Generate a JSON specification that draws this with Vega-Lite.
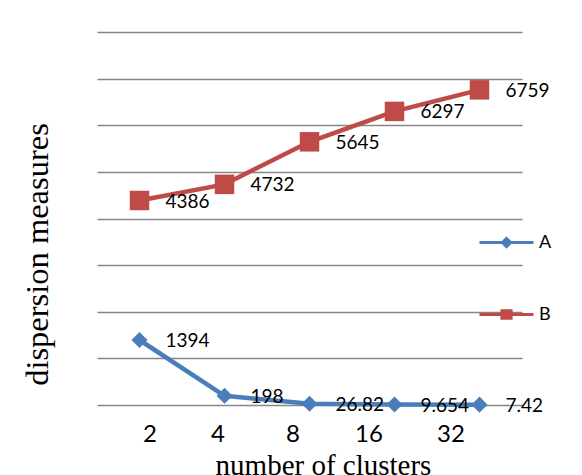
{
  "$schema": "https://vega.github.io/schema/vega-lite/v6.json",
  "width": 425,
  "height": 373,
  "autosize": {"type": "none"},
  "padding": {"left": 97, "top": 32, "right": 60, "bottom": 70},
  "background": "white",
  "config": {
    "view": {"stroke": null},
    "font": "Lato"
  },
  "data": {
    "values": [
      {"clusters": "2", "series": "A", "value": 1394},
      {"clusters": "4", "series": "A", "value": 198},
      {"clusters": "8", "series": "A", "value": 26.82},
      {"clusters": "16", "series": "A", "value": 9.654},
      {"clusters": "32", "series": "A", "value": 7.42},
      {"clusters": "2", "series": "B", "value": 4386},
      {"clusters": "4", "series": "B", "value": 4732},
      {"clusters": "8", "series": "B", "value": 5645},
      {"clusters": "16", "series": "B", "value": 6297},
      {"clusters": "32", "series": "B", "value": 6759}
    ]
  },
  "encoding": {
    "x": {
      "field": "clusters",
      "type": "ordinal",
      "sort": ["2", "4", "8", "16", "32"],
      "scale": {"type": "point", "padding": 0.5},
      "axis": {
        "title": "number of clusters",
        "titleFont": "Liberation Serif",
        "titleFontSize": 29,
        "titleFontWeight": "normal",
        "titleColor": "black",
        "titleX": 226,
        "titleY": 46,
        "titleBaseline": "top",
        "labelAngle": 0,
        "labelFont": "Lato",
        "labelFontSize": 24,
        "labelColor": "black",
        "labelPadding": 17,
        "labelOffset": {
          "condition": [
            {"test": "datum.value === '2'", "value": 10},
            {"test": "datum.value === '4'", "value": -7},
            {"test": "datum.value === '8'", "value": -17},
            {"test": "datum.value === '16'", "value": -26}
          ],
          "value": -29
        },
        "domain": false,
        "ticks": false,
        "grid": false
      }
    },
    "y": {
      "field": "value",
      "type": "quantitative",
      "scale": {"domain": [0, 8000], "nice": false},
      "axis": {
        "title": "dispersion measures",
        "titleFont": "Liberation Serif",
        "titleFontSize": 32.5,
        "titleFontWeight": "normal",
        "titleColor": "black",
        "titleX": -60,
        "titleY": 222,
        "titleAngle": -90,
        "titleAlign": "center",
        "titleBaseline": "middle",
        "values": [0, 1000, 2000, 3000, 4000, 5000, 6000, 7000, 8000],
        "labels": false,
        "ticks": false,
        "domain": false,
        "grid": true,
        "gridColor": "#878787",
        "gridWidth": 1.5
      }
    }
  },
  "layer": [
    {
      "mark": {"type": "line", "strokeWidth": 4.5},
      "encoding": {
        "color": {
          "field": "series",
          "type": "nominal",
          "scale": {"range": ["#4a7ebb", "#be4b48"]},
          "legend": null
        }
      }
    },
    {
      "transform": [{"filter": "datum.series === 'A'"}],
      "mark": {"type": "point", "filled": true, "shape": "diamond", "size": 260, "opacity": 1},
      "encoding": {
        "color": {"field": "series", "type": "nominal", "legend": null}
      }
    },
    {
      "transform": [{"filter": "datum.series === 'B'"}],
      "mark": {"type": "point", "filled": true, "shape": "square", "size": 380, "opacity": 1},
      "encoding": {
        "color": {"field": "series", "type": "nominal", "legend": null}
      }
    },
    {
      "transform": [{"filter": "datum.series === 'none'"}],
      "mark": {"type": "point", "size": 2916, "strokeWidth": 3, "opacity": 1},
      "encoding": {
        "fill": {
          "field": "series",
          "type": "nominal",
          "scale": {"domain": ["A", "B"], "range": ["#4a7ebb", "#be4b48"]},
          "legend": {
            "title": null,
            "orient": "none",
            "legendX": 381,
            "legendY": 182,
            "symbolSize": 2916,
            "symbolOpacity": 1,
            "symbolStrokeWidth": 3,
            "rowPadding": 33,
            "labelFont": "Lato",
            "labelFontSize": 18,
            "labelColor": "black",
            "labelOffset": 4
          }
        },
        "stroke": {
          "field": "series",
          "type": "nominal",
          "scale": {"domain": ["A", "B"], "range": ["#4a7ebb", "#be4b48"]}
        },
        "shape": {
          "field": "series",
          "type": "nominal",
          "scale": {
            "domain": ["A", "B"],
            "range": [
              "M-1,0L1,0M0,-0.15L0.15,0L0,0.15L-0.15,0Z",
              "M-1,0L1,0M-0.17,-0.14L0.17,-0.14L0.17,0.14L-0.17,0.14Z"
            ]
          }
        }
      }
    },
    {
      "mark": {"type": "text", "align": "left", "baseline": "middle", "dx": 26, "dy": 1, "font": "Lato", "fontSize": 19, "color": "black"},
      "encoding": {
        "text": {"field": "value", "type": "quantitative"}
      }
    }
  ]
}
